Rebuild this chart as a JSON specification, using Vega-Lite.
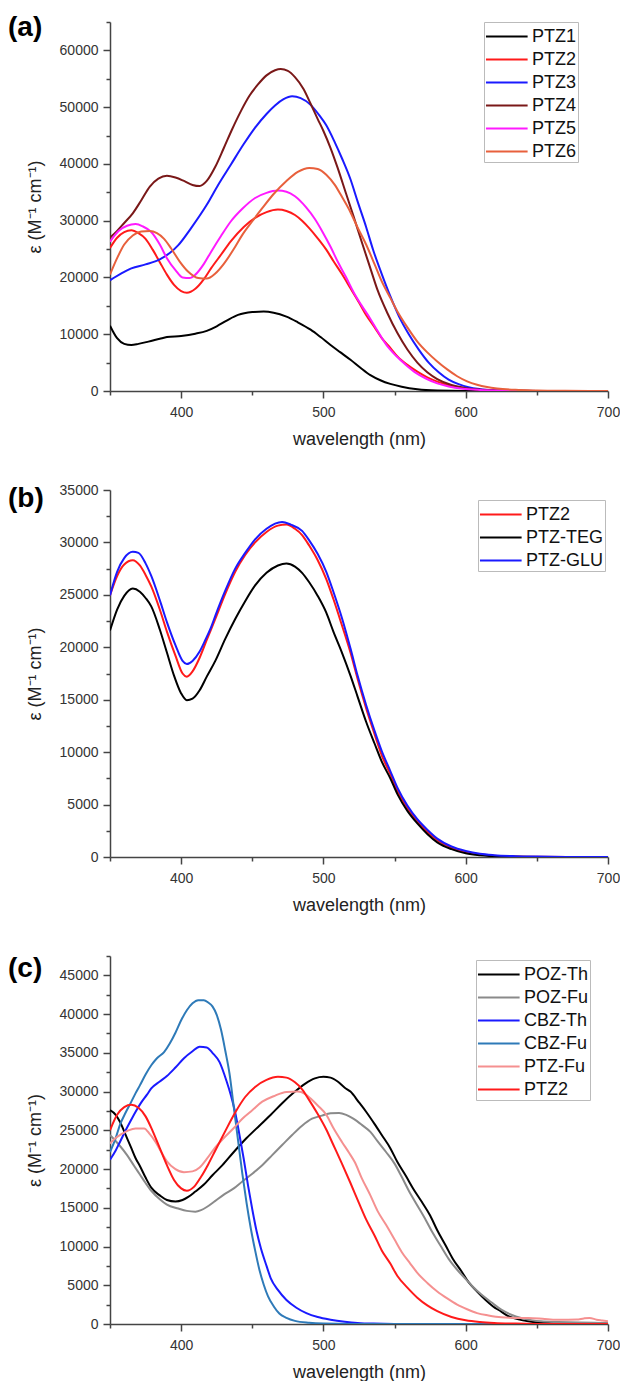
{
"$schema": "https://vega.github.io/schema/vega-lite/v6.json",
"padding": {"left": 8, "top": 13, "right": 0, "bottom": 0},
"config": {
 "font": "Liberation Sans",
 "view": {"stroke": null},
 "axis": {"domainColor": "#444", "domainWidth": 1.5, "tickColor": "#444", "tickWidth": 1.5, "labelFontSize": 14, "labelColor": "#333", "titleFontSize": 18, "titleFontWeight": "normal", "titleColor": "#222", "grid": false, "labelFont": "Liberation Sans", "titleFont": "Liberation Sans"},
 "legend": {"orient": "none", "title": null, "symbolType": "M-1.7,0H1.7", "symbolSize": 600, "symbolStrokeWidth": 2.5, "symbolOffset": 8.3, "labelFontSize": 18, "labelColor": "#111", "labelFont": "Liberation Sans", "strokeColor": "#bbb", "padding": 1, "rowPadding": 0, "labelOffset": 11.7},
 "line": {"strokeWidth": 2, "interpolate": "monotone"},
 "title": {"anchor": "start", "frame": "group", "fontSize": 28, "fontWeight": "bold", "font": "Liberation Sans", "color": "#000", "offset": 0, "baseline": "middle", "dx": -102}
},
"datasets": {
 "a": [
  {"s":"PTZ1","x":350,"y":11500},{"s":"PTZ1","x":355,"y":9300},{"s":"PTZ1","x":360,"y":8300},{"s":"PTZ1","x":365,"y":8100},{"s":"PTZ1","x":370,"y":8300},{"s":"PTZ1","x":377,"y":8700},{"s":"PTZ1","x":385,"y":9200},{"s":"PTZ1","x":390,"y":9500},{"s":"PTZ1","x":400,"y":9700},{"s":"PTZ1","x":410,"y":10100},{"s":"PTZ1","x":418,"y":10600},{"s":"PTZ1","x":425,"y":11400},{"s":"PTZ1","x":432,"y":12400},{"s":"PTZ1","x":440,"y":13400},{"s":"PTZ1","x":450,"y":13900},{"s":"PTZ1","x":458,"y":14000},{"s":"PTZ1","x":465,"y":13800},{"s":"PTZ1","x":474,"y":13100},{"s":"PTZ1","x":482,"y":12100},{"s":"PTZ1","x":491,"y":10800},{"s":"PTZ1","x":498,"y":9500},{"s":"PTZ1","x":505,"y":8100},{"s":"PTZ1","x":512,"y":6800},{"s":"PTZ1","x":519,"y":5500},{"s":"PTZ1","x":526,"y":4100},{"s":"PTZ1","x":533,"y":2800},{"s":"PTZ1","x":540,"y":1900},{"s":"PTZ1","x":547,"y":1250},{"s":"PTZ1","x":555,"y":750},{"s":"PTZ1","x":566,"y":300},{"s":"PTZ1","x":580,"y":80},{"s":"PTZ1","x":600,"y":10},{"s":"PTZ1","x":650,"y":0},{"s":"PTZ1","x":700,"y":0},
  {"s":"PTZ2","x":350,"y":25200},{"s":"PTZ2","x":355,"y":27000},{"s":"PTZ2","x":360,"y":28000},{"s":"PTZ2","x":365,"y":28300},{"s":"PTZ2","x":370,"y":27800},{"s":"PTZ2","x":375,"y":26800},{"s":"PTZ2","x":380,"y":24900},{"s":"PTZ2","x":385,"y":22700},{"s":"PTZ2","x":390,"y":20500},{"s":"PTZ2","x":395,"y":18700},{"s":"PTZ2","x":400,"y":17600},{"s":"PTZ2","x":404,"y":17300},{"s":"PTZ2","x":410,"y":18000},{"s":"PTZ2","x":416,"y":19700},{"s":"PTZ2","x":421,"y":21600},{"s":"PTZ2","x":428,"y":24000},{"s":"PTZ2","x":435,"y":26400},{"s":"PTZ2","x":444,"y":28900},{"s":"PTZ2","x":452,"y":30500},{"s":"PTZ2","x":460,"y":31500},{"s":"PTZ2","x":468,"y":31950},{"s":"PTZ2","x":474,"y":31700},{"s":"PTZ2","x":480,"y":31000},{"s":"PTZ2","x":485,"y":30000},{"s":"PTZ2","x":490,"y":28700},{"s":"PTZ2","x":496,"y":26900},{"s":"PTZ2","x":502,"y":24900},{"s":"PTZ2","x":507,"y":22900},{"s":"PTZ2","x":513,"y":20600},{"s":"PTZ2","x":519,"y":18100},{"s":"PTZ2","x":525,"y":15600},{"s":"PTZ2","x":530,"y":13400},{"s":"PTZ2","x":536,"y":11200},{"s":"PTZ2","x":541,"y":9300},{"s":"PTZ2","x":547,"y":7600},{"s":"PTZ2","x":552,"y":6100},{"s":"PTZ2","x":559,"y":4600},{"s":"PTZ2","x":566,"y":3400},{"s":"PTZ2","x":573,"y":2400},{"s":"PTZ2","x":580,"y":1650},{"s":"PTZ2","x":590,"y":900},{"s":"PTZ2","x":600,"y":470},{"s":"PTZ2","x":610,"y":250},{"s":"PTZ2","x":620,"y":130},{"s":"PTZ2","x":635,"y":50},{"s":"PTZ2","x":650,"y":15},{"s":"PTZ2","x":700,"y":0},
  {"s":"PTZ3","x":350,"y":19500},{"s":"PTZ3","x":358,"y":20700},{"s":"PTZ3","x":365,"y":21600},{"s":"PTZ3","x":375,"y":22300},{"s":"PTZ3","x":385,"y":23200},{"s":"PTZ3","x":392,"y":24300},{"s":"PTZ3","x":398,"y":25700},{"s":"PTZ3","x":407,"y":28700},{"s":"PTZ3","x":418,"y":32800},{"s":"PTZ3","x":426,"y":36300},{"s":"PTZ3","x":435,"y":39900},{"s":"PTZ3","x":444,"y":43500},{"s":"PTZ3","x":452,"y":46400},{"s":"PTZ3","x":460,"y":48800},{"s":"PTZ3","x":466,"y":50300},{"s":"PTZ3","x":472,"y":51400},{"s":"PTZ3","x":478,"y":51900},{"s":"PTZ3","x":484,"y":51600},{"s":"PTZ3","x":491,"y":50400},{"s":"PTZ3","x":497,"y":48600},{"s":"PTZ3","x":502,"y":46800},{"s":"PTZ3","x":508,"y":43800},{"s":"PTZ3","x":513,"y":41000},{"s":"PTZ3","x":519,"y":37300},{"s":"PTZ3","x":524,"y":33400},{"s":"PTZ3","x":530,"y":28900},{"s":"PTZ3","x":535,"y":24800},{"s":"PTZ3","x":541,"y":20600},{"s":"PTZ3","x":547,"y":16700},{"s":"PTZ3","x":553,"y":13200},{"s":"PTZ3","x":560,"y":10000},{"s":"PTZ3","x":567,"y":7300},{"s":"PTZ3","x":574,"y":5000},{"s":"PTZ3","x":581,"y":3300},{"s":"PTZ3","x":588,"y":2000},{"s":"PTZ3","x":595,"y":1200},{"s":"PTZ3","x":602,"y":650},{"s":"PTZ3","x":610,"y":330},{"s":"PTZ3","x":620,"y":150},{"s":"PTZ3","x":635,"y":50},{"s":"PTZ3","x":650,"y":15},{"s":"PTZ3","x":700,"y":0},
  {"s":"PTZ4","x":350,"y":27000},{"s":"PTZ4","x":355,"y":28200},{"s":"PTZ4","x":360,"y":29600},{"s":"PTZ4","x":366,"y":31300},{"s":"PTZ4","x":372,"y":33600},{"s":"PTZ4","x":378,"y":36000},{"s":"PTZ4","x":384,"y":37400},{"s":"PTZ4","x":390,"y":37900},{"s":"PTZ4","x":396,"y":37600},{"s":"PTZ4","x":402,"y":37000},{"s":"PTZ4","x":408,"y":36300},{"s":"PTZ4","x":413,"y":36100},{"s":"PTZ4","x":418,"y":37000},{"s":"PTZ4","x":424,"y":39500},{"s":"PTZ4","x":430,"y":42800},{"s":"PTZ4","x":436,"y":46200},{"s":"PTZ4","x":442,"y":49300},{"s":"PTZ4","x":448,"y":52000},{"s":"PTZ4","x":454,"y":54000},{"s":"PTZ4","x":460,"y":55600},{"s":"PTZ4","x":466,"y":56500},{"s":"PTZ4","x":470,"y":56700},{"s":"PTZ4","x":475,"y":56400},{"s":"PTZ4","x":480,"y":55300},{"s":"PTZ4","x":486,"y":53200},{"s":"PTZ4","x":491,"y":50600},{"s":"PTZ4","x":496,"y":47900},{"s":"PTZ4","x":500,"y":45800},{"s":"PTZ4","x":505,"y":42800},{"s":"PTZ4","x":510,"y":39300},{"s":"PTZ4","x":516,"y":34700},{"s":"PTZ4","x":521,"y":30900},{"s":"PTZ4","x":527,"y":26200},{"s":"PTZ4","x":533,"y":21600},{"s":"PTZ4","x":538,"y":17800},{"s":"PTZ4","x":545,"y":13700},{"s":"PTZ4","x":552,"y":10200},{"s":"PTZ4","x":559,"y":7300},{"s":"PTZ4","x":566,"y":5000},{"s":"PTZ4","x":573,"y":3300},{"s":"PTZ4","x":580,"y":2100},{"s":"PTZ4","x":590,"y":1050},{"s":"PTZ4","x":600,"y":500},{"s":"PTZ4","x":610,"y":240},{"s":"PTZ4","x":620,"y":110},{"s":"PTZ4","x":635,"y":40},{"s":"PTZ4","x":650,"y":10},{"s":"PTZ4","x":700,"y":0},
  {"s":"PTZ5","x":350,"y":26300},{"s":"PTZ5","x":356,"y":28200},{"s":"PTZ5","x":362,"y":29100},{"s":"PTZ5","x":368,"y":29400},{"s":"PTZ5","x":373,"y":29000},{"s":"PTZ5","x":379,"y":28000},{"s":"PTZ5","x":385,"y":25800},{"s":"PTZ5","x":390,"y":23400},{"s":"PTZ5","x":396,"y":21300},{"s":"PTZ5","x":401,"y":20000},{"s":"PTZ5","x":406,"y":19900},{"s":"PTZ5","x":410,"y":20500},{"s":"PTZ5","x":416,"y":22400},{"s":"PTZ5","x":421,"y":24500},{"s":"PTZ5","x":428,"y":27300},{"s":"PTZ5","x":435,"y":29900},{"s":"PTZ5","x":443,"y":32100},{"s":"PTZ5","x":452,"y":34000},{"s":"PTZ5","x":460,"y":34900},{"s":"PTZ5","x":468,"y":35300},{"s":"PTZ5","x":474,"y":35100},{"s":"PTZ5","x":480,"y":34300},{"s":"PTZ5","x":488,"y":32300},{"s":"PTZ5","x":494,"y":30300},{"s":"PTZ5","x":499,"y":28200},{"s":"PTZ5","x":505,"y":25400},{"s":"PTZ5","x":510,"y":22800},{"s":"PTZ5","x":516,"y":20000},{"s":"PTZ5","x":521,"y":17500},{"s":"PTZ5","x":527,"y":15000},{"s":"PTZ5","x":533,"y":12700},{"s":"PTZ5","x":538,"y":10600},{"s":"PTZ5","x":544,"y":8200},{"s":"PTZ5","x":551,"y":6200},{"s":"PTZ5","x":558,"y":4600},{"s":"PTZ5","x":565,"y":3200},{"s":"PTZ5","x":572,"y":2200},{"s":"PTZ5","x":580,"y":1350},{"s":"PTZ5","x":588,"y":800},{"s":"PTZ5","x":598,"y":400},{"s":"PTZ5","x":610,"y":180},{"s":"PTZ5","x":625,"y":60},{"s":"PTZ5","x":640,"y":15},{"s":"PTZ5","x":700,"y":0},
  {"s":"PTZ6","x":350,"y":20500},{"s":"PTZ6","x":355,"y":23400},{"s":"PTZ6","x":360,"y":25800},{"s":"PTZ6","x":366,"y":27400},{"s":"PTZ6","x":372,"y":28100},{"s":"PTZ6","x":378,"y":28200},{"s":"PTZ6","x":383,"y":27800},{"s":"PTZ6","x":388,"y":26800},{"s":"PTZ6","x":393,"y":25100},{"s":"PTZ6","x":399,"y":22800},{"s":"PTZ6","x":405,"y":21000},{"s":"PTZ6","x":412,"y":19900},{"s":"PTZ6","x":418,"y":19800},{"s":"PTZ6","x":424,"y":20700},{"s":"PTZ6","x":430,"y":22400},{"s":"PTZ6","x":437,"y":25000},{"s":"PTZ6","x":443,"y":27500},{"s":"PTZ6","x":450,"y":29900},{"s":"PTZ6","x":457,"y":32200},{"s":"PTZ6","x":465,"y":34700},{"s":"PTZ6","x":474,"y":37000},{"s":"PTZ6","x":482,"y":38600},{"s":"PTZ6","x":490,"y":39300},{"s":"PTZ6","x":496,"y":39100},{"s":"PTZ6","x":502,"y":38100},{"s":"PTZ6","x":508,"y":36300},{"s":"PTZ6","x":513,"y":34200},{"s":"PTZ6","x":519,"y":31500},{"s":"PTZ6","x":524,"y":28800},{"s":"PTZ6","x":530,"y":25800},{"s":"PTZ6","x":536,"y":22300},{"s":"PTZ6","x":541,"y":19300},{"s":"PTZ6","x":547,"y":16400},{"s":"PTZ6","x":552,"y":14000},{"s":"PTZ6","x":559,"y":11200},{"s":"PTZ6","x":566,"y":8700},{"s":"PTZ6","x":573,"y":6800},{"s":"PTZ6","x":580,"y":5200},{"s":"PTZ6","x":587,"y":3800},{"s":"PTZ6","x":594,"y":2600},{"s":"PTZ6","x":601,"y":1700},{"s":"PTZ6","x":608,"y":1100},{"s":"PTZ6","x":615,"y":700},{"s":"PTZ6","x":622,"y":450},{"s":"PTZ6","x":635,"y":200},{"s":"PTZ6","x":650,"y":90},{"s":"PTZ6","x":670,"y":30},{"s":"PTZ6","x":700,"y":0}
 ],
 "b": [
  {"s":"PTZ2","x":350,"y":24950},{"s":"PTZ2","x":355,"y":26800},{"s":"PTZ2","x":360,"y":27900},{"s":"PTZ2","x":366,"y":28300},{"s":"PTZ2","x":371,"y":27800},{"s":"PTZ2","x":375,"y":26900},{"s":"PTZ2","x":379,"y":25800},{"s":"PTZ2","x":385,"y":23600},{"s":"PTZ2","x":390,"y":21500},{"s":"PTZ2","x":396,"y":19200},{"s":"PTZ2","x":401,"y":17500},{"s":"PTZ2","x":404,"y":17200},{"s":"PTZ2","x":408,"y":17700},{"s":"PTZ2","x":413,"y":19000},{"s":"PTZ2","x":418,"y":20700},{"s":"PTZ2","x":424,"y":22700},{"s":"PTZ2","x":431,"y":25100},{"s":"PTZ2","x":438,"y":27200},{"s":"PTZ2","x":445,"y":28800},{"s":"PTZ2","x":452,"y":30000},{"s":"PTZ2","x":460,"y":31000},{"s":"PTZ2","x":468,"y":31600},{"s":"PTZ2","x":474,"y":31700},{"s":"PTZ2","x":480,"y":31300},{"s":"PTZ2","x":485,"y":30700},{"s":"PTZ2","x":490,"y":29700},{"s":"PTZ2","x":496,"y":28300},{"s":"PTZ2","x":502,"y":26500},{"s":"PTZ2","x":507,"y":24600},{"s":"PTZ2","x":513,"y":22100},{"s":"PTZ2","x":519,"y":19500},{"s":"PTZ2","x":524,"y":17000},{"s":"PTZ2","x":530,"y":14200},{"s":"PTZ2","x":536,"y":11700},{"s":"PTZ2","x":541,"y":9700},{"s":"PTZ2","x":547,"y":7900},{"s":"PTZ2","x":552,"y":6300},{"s":"PTZ2","x":559,"y":4700},{"s":"PTZ2","x":566,"y":3400},{"s":"PTZ2","x":573,"y":2400},{"s":"PTZ2","x":580,"y":1600},{"s":"PTZ2","x":590,"y":900},{"s":"PTZ2","x":600,"y":470},{"s":"PTZ2","x":610,"y":250},{"s":"PTZ2","x":620,"y":130},{"s":"PTZ2","x":635,"y":50},{"s":"PTZ2","x":650,"y":15},{"s":"PTZ2","x":700,"y":0},
  {"s":"PTZ-TEG","x":350,"y":21600},{"s":"PTZ-TEG","x":355,"y":23600},{"s":"PTZ-TEG","x":360,"y":24900},{"s":"PTZ-TEG","x":366,"y":25600},{"s":"PTZ-TEG","x":371,"y":25300},{"s":"PTZ-TEG","x":375,"y":24700},{"s":"PTZ-TEG","x":379,"y":23900},{"s":"PTZ-TEG","x":385,"y":21700},{"s":"PTZ-TEG","x":390,"y":19500},{"s":"PTZ-TEG","x":395,"y":17300},{"s":"PTZ-TEG","x":400,"y":15600},{"s":"PTZ-TEG","x":404,"y":14950},{"s":"PTZ-TEG","x":408,"y":15100},{"s":"PTZ-TEG","x":413,"y":15900},{"s":"PTZ-TEG","x":418,"y":17200},{"s":"PTZ-TEG","x":424,"y":18700},{"s":"PTZ-TEG","x":431,"y":20800},{"s":"PTZ-TEG","x":438,"y":22700},{"s":"PTZ-TEG","x":445,"y":24400},{"s":"PTZ-TEG","x":452,"y":25900},{"s":"PTZ-TEG","x":460,"y":27100},{"s":"PTZ-TEG","x":468,"y":27800},{"s":"PTZ-TEG","x":474,"y":28000},{"s":"PTZ-TEG","x":480,"y":27700},{"s":"PTZ-TEG","x":485,"y":27100},{"s":"PTZ-TEG","x":490,"y":26200},{"s":"PTZ-TEG","x":496,"y":24900},{"s":"PTZ-TEG","x":502,"y":23300},{"s":"PTZ-TEG","x":507,"y":21500},{"s":"PTZ-TEG","x":513,"y":19500},{"s":"PTZ-TEG","x":519,"y":17300},{"s":"PTZ-TEG","x":524,"y":15300},{"s":"PTZ-TEG","x":530,"y":12900},{"s":"PTZ-TEG","x":536,"y":10800},{"s":"PTZ-TEG","x":541,"y":9100},{"s":"PTZ-TEG","x":547,"y":7500},{"s":"PTZ-TEG","x":552,"y":6000},{"s":"PTZ-TEG","x":559,"y":4400},{"s":"PTZ-TEG","x":566,"y":3200},{"s":"PTZ-TEG","x":573,"y":2200},{"s":"PTZ-TEG","x":580,"y":1400},{"s":"PTZ-TEG","x":590,"y":750},{"s":"PTZ-TEG","x":600,"y":350},{"s":"PTZ-TEG","x":610,"y":160},{"s":"PTZ-TEG","x":620,"y":70},{"s":"PTZ-TEG","x":635,"y":20},{"s":"PTZ-TEG","x":650,"y":5},{"s":"PTZ-TEG","x":700,"y":0},
  {"s":"PTZ-GLU","x":350,"y":24950},{"s":"PTZ-GLU","x":355,"y":27200},{"s":"PTZ-GLU","x":360,"y":28500},{"s":"PTZ-GLU","x":366,"y":29100},{"s":"PTZ-GLU","x":370,"y":29000},{"s":"PTZ-GLU","x":375,"y":28000},{"s":"PTZ-GLU","x":379,"y":26800},{"s":"PTZ-GLU","x":385,"y":24500},{"s":"PTZ-GLU","x":390,"y":22400},{"s":"PTZ-GLU","x":396,"y":20200},{"s":"PTZ-GLU","x":401,"y":18700},{"s":"PTZ-GLU","x":404,"y":18400},{"s":"PTZ-GLU","x":408,"y":18700},{"s":"PTZ-GLU","x":413,"y":19600},{"s":"PTZ-GLU","x":417,"y":20700},{"s":"PTZ-GLU","x":421,"y":21900},{"s":"PTZ-GLU","x":424,"y":23000},{"s":"PTZ-GLU","x":431,"y":25400},{"s":"PTZ-GLU","x":438,"y":27500},{"s":"PTZ-GLU","x":445,"y":29000},{"s":"PTZ-GLU","x":452,"y":30300},{"s":"PTZ-GLU","x":460,"y":31300},{"s":"PTZ-GLU","x":466,"y":31800},{"s":"PTZ-GLU","x":471,"y":31950},{"s":"PTZ-GLU","x":477,"y":31700},{"s":"PTZ-GLU","x":485,"y":31100},{"s":"PTZ-GLU","x":490,"y":30200},{"s":"PTZ-GLU","x":496,"y":28900},{"s":"PTZ-GLU","x":502,"y":27200},{"s":"PTZ-GLU","x":507,"y":25300},{"s":"PTZ-GLU","x":513,"y":22800},{"s":"PTZ-GLU","x":519,"y":19900},{"s":"PTZ-GLU","x":524,"y":17300},{"s":"PTZ-GLU","x":530,"y":14500},{"s":"PTZ-GLU","x":536,"y":12000},{"s":"PTZ-GLU","x":541,"y":10100},{"s":"PTZ-GLU","x":547,"y":8200},{"s":"PTZ-GLU","x":552,"y":6600},{"s":"PTZ-GLU","x":559,"y":4900},{"s":"PTZ-GLU","x":566,"y":3600},{"s":"PTZ-GLU","x":573,"y":2600},{"s":"PTZ-GLU","x":580,"y":1750},{"s":"PTZ-GLU","x":590,"y":1000},{"s":"PTZ-GLU","x":600,"y":570},{"s":"PTZ-GLU","x":610,"y":300},{"s":"PTZ-GLU","x":620,"y":170},{"s":"PTZ-GLU","x":635,"y":80},{"s":"PTZ-GLU","x":650,"y":40},{"s":"PTZ-GLU","x":670,"y":10},{"s":"PTZ-GLU","x":700,"y":0}
 ],
 "c": [
  {"s":"POZ-Th","x":350,"y":27600},{"s":"POZ-Th","x":354,"y":27000},{"s":"POZ-Th","x":357,"y":26100},{"s":"POZ-Th","x":361,"y":24400},{"s":"POZ-Th","x":365,"y":22700},{"s":"POZ-Th","x":368,"y":21400},{"s":"POZ-Th","x":371,"y":20400},{"s":"POZ-Th","x":375,"y":18900},{"s":"POZ-Th","x":379,"y":17600},{"s":"POZ-Th","x":385,"y":16600},{"s":"POZ-Th","x":390,"y":16000},{"s":"POZ-Th","x":396,"y":15800},{"s":"POZ-Th","x":401,"y":16000},{"s":"POZ-Th","x":405,"y":16400},{"s":"POZ-Th","x":410,"y":17100},{"s":"POZ-Th","x":416,"y":18000},{"s":"POZ-Th","x":422,"y":19200},{"s":"POZ-Th","x":429,"y":20500},{"s":"POZ-Th","x":437,"y":22200},{"s":"POZ-Th","x":446,"y":24000},{"s":"POZ-Th","x":455,"y":25600},{"s":"POZ-Th","x":463,"y":27000},{"s":"POZ-Th","x":471,"y":28500},{"s":"POZ-Th","x":480,"y":30000},{"s":"POZ-Th","x":487,"y":31000},{"s":"POZ-Th","x":494,"y":31700},{"s":"POZ-Th","x":500,"y":31900},{"s":"POZ-Th","x":505,"y":31800},{"s":"POZ-Th","x":510,"y":31300},{"s":"POZ-Th","x":515,"y":30500},{"s":"POZ-Th","x":519,"y":30000},{"s":"POZ-Th","x":525,"y":28600},{"s":"POZ-Th","x":530,"y":27400},{"s":"POZ-Th","x":536,"y":25800},{"s":"POZ-Th","x":541,"y":24400},{"s":"POZ-Th","x":547,"y":22700},{"s":"POZ-Th","x":552,"y":20900},{"s":"POZ-Th","x":558,"y":19100},{"s":"POZ-Th","x":563,"y":17500},{"s":"POZ-Th","x":569,"y":15800},{"s":"POZ-Th","x":575,"y":14000},{"s":"POZ-Th","x":580,"y":12100},{"s":"POZ-Th","x":586,"y":10100},{"s":"POZ-Th","x":591,"y":8400},{"s":"POZ-Th","x":597,"y":6800},{"s":"POZ-Th","x":602,"y":5400},{"s":"POZ-Th","x":608,"y":4200},{"s":"POZ-Th","x":614,"y":3100},{"s":"POZ-Th","x":619,"y":2300},{"s":"POZ-Th","x":625,"y":1600},{"s":"POZ-Th","x":630,"y":1000},{"s":"POZ-Th","x":637,"y":600},{"s":"POZ-Th","x":644,"y":350},{"s":"POZ-Th","x":651,"y":200},{"s":"POZ-Th","x":658,"y":130},{"s":"POZ-Th","x":670,"y":60},{"s":"POZ-Th","x":685,"y":20},{"s":"POZ-Th","x":700,"y":0},
  {"s":"POZ-Fu","x":350,"y":24400},{"s":"POZ-Fu","x":356,"y":23200},{"s":"POZ-Fu","x":362,"y":21800},{"s":"POZ-Fu","x":367,"y":20400},{"s":"POZ-Fu","x":371,"y":19300},{"s":"POZ-Fu","x":375,"y":18200},{"s":"POZ-Fu","x":379,"y":17200},{"s":"POZ-Fu","x":385,"y":16100},{"s":"POZ-Fu","x":390,"y":15400},{"s":"POZ-Fu","x":398,"y":14900},{"s":"POZ-Fu","x":404,"y":14600},{"s":"POZ-Fu","x":410,"y":14500},{"s":"POZ-Fu","x":414,"y":14700},{"s":"POZ-Fu","x":418,"y":15100},{"s":"POZ-Fu","x":424,"y":15900},{"s":"POZ-Fu","x":430,"y":16700},{"s":"POZ-Fu","x":437,"y":17500},{"s":"POZ-Fu","x":443,"y":18400},{"s":"POZ-Fu","x":450,"y":19400},{"s":"POZ-Fu","x":457,"y":20500},{"s":"POZ-Fu","x":464,"y":21800},{"s":"POZ-Fu","x":471,"y":23100},{"s":"POZ-Fu","x":478,"y":24400},{"s":"POZ-Fu","x":485,"y":25600},{"s":"POZ-Fu","x":492,"y":26500},{"s":"POZ-Fu","x":499,"y":26900},{"s":"POZ-Fu","x":505,"y":27200},{"s":"POZ-Fu","x":511,"y":27250},{"s":"POZ-Fu","x":516,"y":27000},{"s":"POZ-Fu","x":521,"y":26500},{"s":"POZ-Fu","x":527,"y":25700},{"s":"POZ-Fu","x":533,"y":24800},{"s":"POZ-Fu","x":538,"y":23600},{"s":"POZ-Fu","x":544,"y":22200},{"s":"POZ-Fu","x":550,"y":20700},{"s":"POZ-Fu","x":555,"y":19000},{"s":"POZ-Fu","x":560,"y":17200},{"s":"POZ-Fu","x":566,"y":15300},{"s":"POZ-Fu","x":572,"y":13400},{"s":"POZ-Fu","x":577,"y":11700},{"s":"POZ-Fu","x":583,"y":9900},{"s":"POZ-Fu","x":588,"y":8400},{"s":"POZ-Fu","x":594,"y":7000},{"s":"POZ-Fu","x":600,"y":5800},{"s":"POZ-Fu","x":605,"y":4800},{"s":"POZ-Fu","x":611,"y":3800},{"s":"POZ-Fu","x":618,"y":2800},{"s":"POZ-Fu","x":625,"y":1850},{"s":"POZ-Fu","x":632,"y":1200},{"s":"POZ-Fu","x":639,"y":770},{"s":"POZ-Fu","x":646,"y":500},{"s":"POZ-Fu","x":653,"y":340},{"s":"POZ-Fu","x":665,"y":250},{"s":"POZ-Fu","x":680,"y":180},{"s":"POZ-Fu","x":690,"y":150},{"s":"POZ-Fu","x":700,"y":120},
  {"s":"CBZ-Th","x":350,"y":21200},{"s":"CBZ-Th","x":354,"y":22400},{"s":"CBZ-Th","x":357,"y":23500},{"s":"CBZ-Th","x":361,"y":25000},{"s":"CBZ-Th","x":365,"y":26400},{"s":"CBZ-Th","x":368,"y":27400},{"s":"CBZ-Th","x":372,"y":28600},{"s":"CBZ-Th","x":376,"y":29600},{"s":"CBZ-Th","x":379,"y":30400},{"s":"CBZ-Th","x":385,"y":31300},{"s":"CBZ-Th","x":390,"y":32000},{"s":"CBZ-Th","x":396,"y":33100},{"s":"CBZ-Th","x":402,"y":34300},{"s":"CBZ-Th","x":408,"y":35200},{"s":"CBZ-Th","x":413,"y":35800},{"s":"CBZ-Th","x":418,"y":35700},{"s":"CBZ-Th","x":422,"y":35000},{"s":"CBZ-Th","x":427,"y":33800},{"s":"CBZ-Th","x":432,"y":31300},{"s":"CBZ-Th","x":435,"y":29500},{"s":"CBZ-Th","x":438,"y":27300},{"s":"CBZ-Th","x":441,"y":24400},{"s":"CBZ-Th","x":444,"y":21300},{"s":"CBZ-Th","x":447,"y":17900},{"s":"CBZ-Th","x":450,"y":14800},{"s":"CBZ-Th","x":453,"y":12000},{"s":"CBZ-Th","x":456,"y":9800},{"s":"CBZ-Th","x":460,"y":7500},{"s":"CBZ-Th","x":463,"y":5900},{"s":"CBZ-Th","x":468,"y":4400},{"s":"CBZ-Th","x":474,"y":3100},{"s":"CBZ-Th","x":481,"y":2100},{"s":"CBZ-Th","x":488,"y":1400},{"s":"CBZ-Th","x":496,"y":900},{"s":"CBZ-Th","x":505,"y":560},{"s":"CBZ-Th","x":515,"y":300},{"s":"CBZ-Th","x":524,"y":140},{"s":"CBZ-Th","x":535,"y":50},{"s":"CBZ-Th","x":550,"y":10},{"s":"CBZ-Th","x":600,"y":0},{"s":"CBZ-Th","x":700,"y":0},
  {"s":"CBZ-Fu","x":350,"y":22200},{"s":"CBZ-Fu","x":354,"y":24000},{"s":"CBZ-Fu","x":357,"y":25700},{"s":"CBZ-Fu","x":361,"y":27300},{"s":"CBZ-Fu","x":365,"y":28700},{"s":"CBZ-Fu","x":368,"y":29800},{"s":"CBZ-Fu","x":371,"y":30800},{"s":"CBZ-Fu","x":375,"y":32200},{"s":"CBZ-Fu","x":379,"y":33400},{"s":"CBZ-Fu","x":383,"y":34300},{"s":"CBZ-Fu","x":388,"y":35100},{"s":"CBZ-Fu","x":392,"y":36200},{"s":"CBZ-Fu","x":396,"y":37600},{"s":"CBZ-Fu","x":400,"y":39200},{"s":"CBZ-Fu","x":404,"y":40500},{"s":"CBZ-Fu","x":408,"y":41400},{"s":"CBZ-Fu","x":412,"y":41800},{"s":"CBZ-Fu","x":416,"y":41800},{"s":"CBZ-Fu","x":419,"y":41500},{"s":"CBZ-Fu","x":422,"y":41000},{"s":"CBZ-Fu","x":425,"y":39900},{"s":"CBZ-Fu","x":428,"y":38000},{"s":"CBZ-Fu","x":431,"y":35300},{"s":"CBZ-Fu","x":434,"y":32300},{"s":"CBZ-Fu","x":437,"y":28000},{"s":"CBZ-Fu","x":440,"y":23700},{"s":"CBZ-Fu","x":443,"y":19400},{"s":"CBZ-Fu","x":446,"y":15600},{"s":"CBZ-Fu","x":449,"y":12300},{"s":"CBZ-Fu","x":452,"y":9500},{"s":"CBZ-Fu","x":455,"y":7000},{"s":"CBZ-Fu","x":458,"y":5100},{"s":"CBZ-Fu","x":461,"y":3600},{"s":"CBZ-Fu","x":465,"y":2300},{"s":"CBZ-Fu","x":469,"y":1350},{"s":"CBZ-Fu","x":474,"y":800},{"s":"CBZ-Fu","x":480,"y":400},{"s":"CBZ-Fu","x":490,"y":150},{"s":"CBZ-Fu","x":500,"y":50},{"s":"CBZ-Fu","x":520,"y":0},{"s":"CBZ-Fu","x":700,"y":0},
  {"s":"PTZ-Fu","x":350,"y":23300},{"s":"PTZ-Fu","x":354,"y":24000},{"s":"PTZ-Fu","x":358,"y":24500},{"s":"PTZ-Fu","x":363,"y":25000},{"s":"PTZ-Fu","x":368,"y":25250},{"s":"PTZ-Fu","x":374,"y":25250},{"s":"PTZ-Fu","x":378,"y":24500},{"s":"PTZ-Fu","x":382,"y":23500},{"s":"PTZ-Fu","x":386,"y":22200},{"s":"PTZ-Fu","x":390,"y":21000},{"s":"PTZ-Fu","x":396,"y":20000},{"s":"PTZ-Fu","x":402,"y":19600},{"s":"PTZ-Fu","x":408,"y":19700},{"s":"PTZ-Fu","x":413,"y":20200},{"s":"PTZ-Fu","x":418,"y":21300},{"s":"PTZ-Fu","x":424,"y":22800},{"s":"PTZ-Fu","x":430,"y":24000},{"s":"PTZ-Fu","x":437,"y":25300},{"s":"PTZ-Fu","x":443,"y":26500},{"s":"PTZ-Fu","x":450,"y":27600},{"s":"PTZ-Fu","x":457,"y":28700},{"s":"PTZ-Fu","x":465,"y":29400},{"s":"PTZ-Fu","x":474,"y":29950},{"s":"PTZ-Fu","x":482,"y":30000},{"s":"PTZ-Fu","x":487,"y":29700},{"s":"PTZ-Fu","x":491,"y":29100},{"s":"PTZ-Fu","x":496,"y":28200},{"s":"PTZ-Fu","x":502,"y":27000},{"s":"PTZ-Fu","x":507,"y":25300},{"s":"PTZ-Fu","x":513,"y":23500},{"s":"PTZ-Fu","x":518,"y":22100},{"s":"PTZ-Fu","x":522,"y":20900},{"s":"PTZ-Fu","x":527,"y":18800},{"s":"PTZ-Fu","x":533,"y":16600},{"s":"PTZ-Fu","x":538,"y":14600},{"s":"PTZ-Fu","x":544,"y":12800},{"s":"PTZ-Fu","x":550,"y":10900},{"s":"PTZ-Fu","x":555,"y":9300},{"s":"PTZ-Fu","x":561,"y":7800},{"s":"PTZ-Fu","x":566,"y":6600},{"s":"PTZ-Fu","x":573,"y":5300},{"s":"PTZ-Fu","x":580,"y":4200},{"s":"PTZ-Fu","x":587,"y":3300},{"s":"PTZ-Fu","x":594,"y":2500},{"s":"PTZ-Fu","x":601,"y":1900},{"s":"PTZ-Fu","x":608,"y":1400},{"s":"PTZ-Fu","x":616,"y":1100},{"s":"PTZ-Fu","x":625,"y":860},{"s":"PTZ-Fu","x":635,"y":780},{"s":"PTZ-Fu","x":644,"y":770},{"s":"PTZ-Fu","x":654,"y":680},{"s":"PTZ-Fu","x":664,"y":560},{"s":"PTZ-Fu","x":672,"y":560},{"s":"PTZ-Fu","x":678,"y":580},{"s":"PTZ-Fu","x":683,"y":720},{"s":"PTZ-Fu","x":687,"y":780},{"s":"PTZ-Fu","x":692,"y":560},{"s":"PTZ-Fu","x":696,"y":450},{"s":"PTZ-Fu","x":700,"y":340},
  {"s":"PTZ2","x":350,"y":25000},{"s":"PTZ2","x":355,"y":27000},{"s":"PTZ2","x":360,"y":28000},{"s":"PTZ2","x":365,"y":28300},{"s":"PTZ2","x":370,"y":27900},{"s":"PTZ2","x":375,"y":26800},{"s":"PTZ2","x":380,"y":24900},{"s":"PTZ2","x":385,"y":22700},{"s":"PTZ2","x":390,"y":20500},{"s":"PTZ2","x":395,"y":18600},{"s":"PTZ2","x":400,"y":17500},{"s":"PTZ2","x":404,"y":17200},{"s":"PTZ2","x":409,"y":17700},{"s":"PTZ2","x":414,"y":19000},{"s":"PTZ2","x":419,"y":20600},{"s":"PTZ2","x":424,"y":22400},{"s":"PTZ2","x":431,"y":24900},{"s":"PTZ2","x":438,"y":27300},{"s":"PTZ2","x":445,"y":29300},{"s":"PTZ2","x":452,"y":30600},{"s":"PTZ2","x":460,"y":31500},{"s":"PTZ2","x":468,"y":31900},{"s":"PTZ2","x":474,"y":31800},{"s":"PTZ2","x":480,"y":31200},{"s":"PTZ2","x":485,"y":30300},{"s":"PTZ2","x":490,"y":28900},{"s":"PTZ2","x":496,"y":27100},{"s":"PTZ2","x":502,"y":25100},{"s":"PTZ2","x":507,"y":23100},{"s":"PTZ2","x":513,"y":20700},{"s":"PTZ2","x":519,"y":18200},{"s":"PTZ2","x":525,"y":15600},{"s":"PTZ2","x":530,"y":13500},{"s":"PTZ2","x":536,"y":11400},{"s":"PTZ2","x":541,"y":9500},{"s":"PTZ2","x":547,"y":7800},{"s":"PTZ2","x":552,"y":6200},{"s":"PTZ2","x":559,"y":4700},{"s":"PTZ2","x":566,"y":3400},{"s":"PTZ2","x":573,"y":2400},{"s":"PTZ2","x":580,"y":1650},{"s":"PTZ2","x":590,"y":900},{"s":"PTZ2","x":600,"y":470},{"s":"PTZ2","x":610,"y":250},{"s":"PTZ2","x":620,"y":130},{"s":"PTZ2","x":635,"y":50},{"s":"PTZ2","x":650,"y":15},{"s":"PTZ2","x":700,"y":0}
 ]
},
"spacing": 35,
"resolve": {"scale": {"color": "independent"}, "legend": {"color": "independent"}},
"vconcat": [
 {
  "width": 498, "height": 369,
  "title": {"text": "(a)", "dy": 24.5},
  "data": {"name": "a"},
  "mark": {"type": "line", "clip": true},
  "encoding": {
   "x": {"field": "x", "type": "quantitative", "scale": {"domain": [350, 700], "nice": false, "zero": false},
    "axis": {"title": "wavelength (nm)", "values": [350,400,450,500,550,600,650,700], "labelExpr": "datum.value % 100 === 0 ? datum.label : ''", "tickSize": {"condition": {"test": "datum.value % 100 === 0", "value": 7}, "value": 4}, "labelPadding": 7, "titlePadding": 11, "labelFlush": false, "format": "d"}},
   "y": {"field": "y", "type": "quantitative", "scale": {"domain": [0, 65000], "nice": false},
    "axis": {"title": "ε (M⁻¹ cm⁻¹)", "values": [0,5000,10000,15000,20000,25000,30000,35000,40000,45000,50000,55000,60000,65000], "labelExpr": "datum.value % 10000 === 0 ? datum.label : ''", "tickSize": {"condition": {"test": "datum.value % 10000 === 0", "value": 7}, "value": 4}, "labelPadding": 5, "titlePadding": 15, "labelFlush": false, "format": "d"}},
   "color": {"field": "s", "type": "nominal", "scale": {"domain": ["PTZ1","PTZ2","PTZ3","PTZ4","PTZ5","PTZ6"], "range": ["#000000","#ff1a1a","#1a1aff","#7a1818","#ff1aff","#e8603c"]},
    "legend": {"legendX": 374, "legendY": 0}}
  }
 },
 {
  "spacing": 40,
  "resolve": {"scale": {"color": "independent"}, "legend": {"color": "independent"}},
  "vconcat": [
   {
    "width": 498, "height": 367,
    "title": {"text": "(b)", "dy": 34},
    "data": {"name": "b"},
    "mark": {"type": "line", "clip": true},
    "encoding": {
     "x": {"field": "x", "type": "quantitative", "scale": {"domain": [350, 700], "nice": false, "zero": false},
      "axis": {"title": "wavelength (nm)", "values": [350,400,450,500,550,600,650,700], "labelExpr": "datum.value % 100 === 0 ? datum.label : ''", "tickSize": {"condition": {"test": "datum.value % 100 === 0", "value": 7}, "value": 4}, "labelPadding": 7, "titlePadding": 11, "labelFlush": false, "format": "d"}},
     "y": {"field": "y", "type": "quantitative", "scale": {"domain": [0, 35000], "nice": false},
      "axis": {"title": "ε (M⁻¹ cm⁻¹)", "values": [0,2500,5000,7500,10000,12500,15000,17500,20000,22500,25000,27500,30000,32500,35000], "labelExpr": "datum.value % 5000 === 0 ? datum.label : ''", "tickSize": {"condition": {"test": "datum.value % 5000 === 0", "value": 7}, "value": 4}, "labelPadding": 5, "titlePadding": 15, "labelFlush": false, "format": "d"}},
     "color": {"field": "s", "type": "nominal", "scale": {"domain": ["PTZ2","PTZ-TEG","PTZ-GLU"], "range": ["#ff1a1a","#000000","#1a1aff"]},
      "legend": {"legendX": 368, "legendY": 10}}
    }
   },
   {
    "width": 498, "height": 368,
    "title": {"text": "(c)", "dy": 31.5},
    "data": {"name": "c"},
    "mark": {"type": "line", "clip": true},
    "encoding": {
     "x": {"field": "x", "type": "quantitative", "scale": {"domain": [350, 700], "nice": false, "zero": false},
      "axis": {"title": "wavelength (nm)", "values": [350,400,450,500,550,600,650,700], "labelExpr": "datum.value % 100 === 0 ? datum.label : ''", "tickSize": {"condition": {"test": "datum.value % 100 === 0", "value": 7}, "value": 4}, "labelPadding": 7, "titlePadding": 11, "labelFlush": false, "format": "d"}},
     "y": {"field": "y", "type": "quantitative", "scale": {"domain": [0, 47500], "nice": false},
      "axis": {"title": "ε (M⁻¹ cm⁻¹)", "values": [0,2500,5000,7500,10000,12500,15000,17500,20000,22500,25000,27500,30000,32500,35000,37500,40000,42500,45000,47500], "labelExpr": "datum.value % 5000 === 0 ? datum.label : ''", "tickSize": {"condition": {"test": "datum.value % 5000 === 0", "value": 7}, "value": 4}, "labelPadding": 5, "titlePadding": 15, "labelFlush": false, "format": "d"}},
     "color": {"field": "s", "type": "nominal", "scale": {"domain": ["POZ-Th","POZ-Fu","CBZ-Th","CBZ-Fu","PTZ-Fu","PTZ2"], "range": ["#000000","#8a8a8a","#1a1aff","#2e7ab8","#f59090","#ff1a1a"]},
      "legend": {"legendX": 366, "legendY": 4}}
    }
   }
  ]
 }
]
}
